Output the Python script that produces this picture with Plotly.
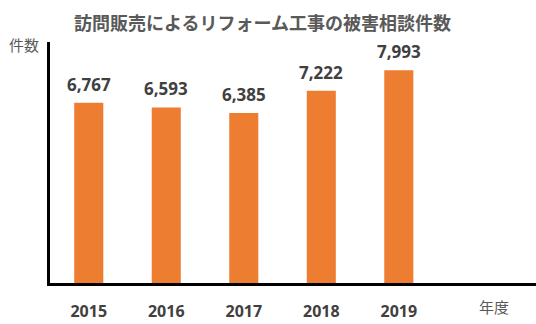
import plotly.graph_objects as go

years = ["2015", "2016", "2017", "2018", "2019"]
cases = [6767, 6593, 6385, 7222, 7993]

title_text = "訪問販売によるリフォーム工事の被害相談件数"
y_label = "件数"
x_label = "年度"

bar_color = "#ED7D31"
text_dark = "#404040"
text_gray = "#595959"
jp_font = "Noto Sans CJK JP"

w, h = 536, 324
L, R, T, B = 50, 0, 42, 41

fig = go.Figure(
    go.Bar(
        x=list(range(len(years))),
        y=cases,
        width=0.375,
        marker=dict(color=bar_color, line=dict(width=0)),
        cliponaxis=False,
    )
)

# value labels above each bar
value_labels = [
    dict(x=i, y=v, xref="x", yref="y", text=f"{v:,}", showarrow=False,
         xanchor="center", yanchor="bottom", yshift=5,
         font=dict(family="Open Sans", size=17, color=text_dark, weight="bold"))
    for i, v in enumerate(cases)
]

# free-standing texts positioned in page pixels
def page_label(text, px, py, size, bold=False):
    return dict(
        text=text, xref="paper", yref="paper",
        x=(px - L) / (w - L - R), y=(h - B - py) / (h - T - B),
        xanchor="center", yanchor="middle", showarrow=False,
        font=dict(family=jp_font, size=size, color=text_gray,
                  weight="bold" if bold else "normal"),
    )

fig.update_layout(
    width=w,
    height=h,
    margin=dict(l=L, r=R, t=T, b=B),
    paper_bgcolor="white",
    plot_bgcolor="white",
    showlegend=False,
    xaxis=dict(
        range=[-0.5, 5.77],
        tickmode="array",
        tickvals=list(range(len(years))),
        ticktext=years,
        tickfont=dict(family="Open Sans", size=16, color=text_dark, weight="bold"),
        showline=True,
        linecolor="black",
        linewidth=3,
        showgrid=False,
        zeroline=False,
        ticks="",
        ticklabelstandoff=12,
    ),
    yaxis=dict(
        range=[0, 9050],
        showline=True,
        linecolor="black",
        linewidth=3,
        showgrid=False,
        zeroline=False,
        showticklabels=False,
        ticks="",
    ),
    annotations=value_labels + [
        page_label(title_text, 262, 22, 18, bold=True),
        page_label(y_label, 24, 45, 15),
        page_label(x_label, 494, 306, 15),
    ],
)

fig.write_html("out.html")
